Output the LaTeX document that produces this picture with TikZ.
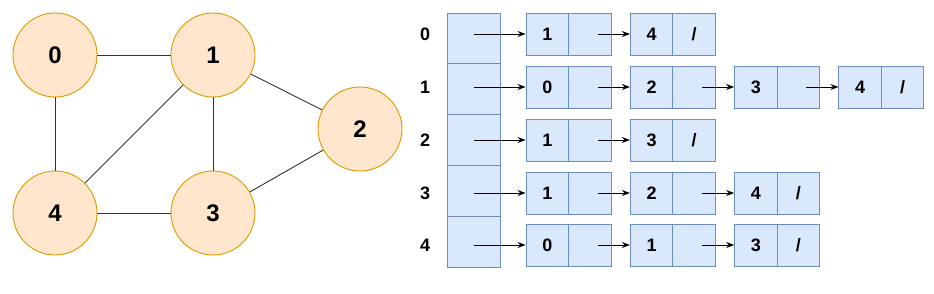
\documentclass[tikz,border=0pt]{standalone}
\usepackage{fontspec}
\setmainfont{Liberation Sans}
\usepackage{xcolor}
\usepackage{tikz}
\usetikzlibrary{positioning,arrows.meta}
\definecolor{vertexBg}{HTML}{FFE6CC}
\definecolor{vertexBox}{HTML}{D79B00}
\definecolor{cellBg}{HTML}{DAE8FC}
\definecolor{cellBox}{HTML}{6C8EBF}
\definecolor{edgeGray}{HTML}{333333}

\begin{document}
\begin{tikzpicture}[x=1pt, y=-1pt,
    vertex/.style={circle, draw=vertexBox, fill=vertexBg, line width=0.9pt,
      minimum size=84pt, inner sep=0pt, font=\fontsize{24}{24}\selectfont\bfseries},
    arraycell/.style={rectangle, draw=cellBox, fill=cellBg, line width=0.9pt,
      minimum width=53pt, minimum height=50.8pt, inner sep=0pt},
    valcell/.style={rectangle, draw=cellBox, fill=cellBg, line width=0.9pt,
      minimum width=42.5pt, minimum height=42pt, inner sep=0pt,
      font=\fontsize{18}{18}\selectfont\bfseries},
    rowlabel/.style={font=\fontsize{18}{18}\selectfont\bfseries},
    link/.style={-{Stealth[length=8pt,width=6pt]}, line width=0.9pt, black}]
  \useasboundingbox (0,0) rectangle (934,294);
  % Graph
  \node[vertex] (v0) at (55,55) {0};
  \node[vertex] (v1) at (213,55) {1};
  \node[vertex] (v2) at (360,129) {2};
  \node[vertex] (v3) at (213,213) {3};
  \node[vertex] (v4) at (55,213) {4};
  \foreach \a/\b in {0/1, 0/4, 1/4, 1/3, 1/2, 2/3, 4/3}
    \draw[edgeGray, line width=0.9pt] (v\a) -- (v\b);
  % Array of heads
  \foreach \r in {0,...,4}
    \node[arraycell] (a\r) at (473.5, 38.4+50.8*\r) {};
  % Adjacency lists
  \foreach \r/\y/\n/\list in {0/34/2/{1,4}, 1/87/4/{0,2,3,4}, 2/140/2/{1,3},
                             3/193/3/{1,2,4}, 4/245/3/{0,1,3}} {
    \node[rowlabel] (l\r) at (425,\y) {\r};
    \foreach \v [count=\c] in \list {
      \node[valcell] (e\r\c) at (547.25+104.3*\c-104.3, \y) {\v};
      \node[valcell] (p\r\c) at (589.75+104.3*\c-104.3, \y) {\ifnum\c=\n /\fi};
      \ifnum\c=1
        \draw[link] (a\r |- e\r\c) -- (e\r\c.west);
      \else
        \pgfmathtruncatemacro\prev{\c-1}
        \draw[link] ([xshift=8pt]p\r\prev.center) -- (e\r\c.west);
      \fi
    }
  }
\end{tikzpicture}
\end{document}
